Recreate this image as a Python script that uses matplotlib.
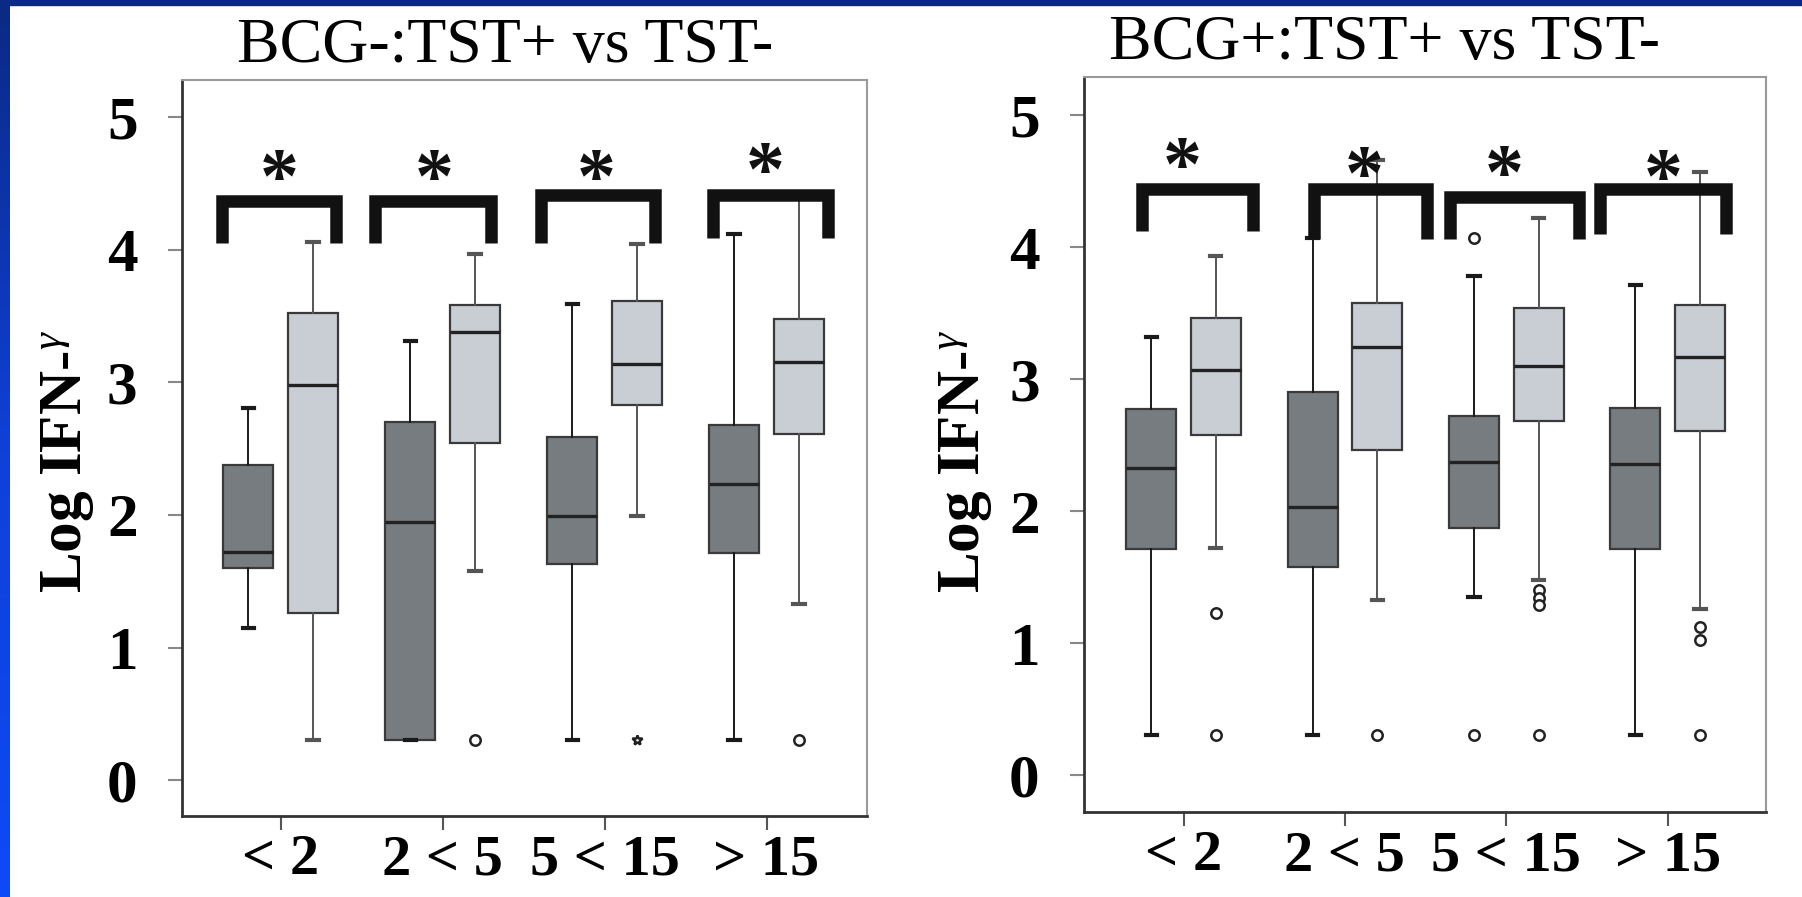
import numpy as np
import matplotlib
matplotlib.use("Agg")
import matplotlib.pyplot as plt
from matplotlib.colors import LinearSegmentedColormap
from matplotlib.patches import Rectangle

plt.rcParams["font.family"] = "Liberation Serif"
plt.rcParams["mathtext.fontset"] = "custom"
plt.rcParams["mathtext.rm"] = "Liberation Serif"
plt.rcParams["mathtext.it"] = "Liberation Serif:italic"
plt.rcParams["mathtext.bf"] = "Liberation Serif:bold"

# grupos de edad (años)
groups = ["< 2", "2 < 5", "5 < 15", "> 15"]

# panel izquierdo BCG- : cajas oscuras = TST-, claras = TST+
bcgneg_neg_q1 = [1.60, 0.30, 1.63, 1.71]
bcgneg_neg_med = [1.72, 1.95, 1.99, 2.23]
bcgneg_neg_q3 = [2.38, 2.70, 2.59, 2.68]
bcgneg_neg_lo = [1.15, 0.30, 0.30, 0.30]
bcgneg_neg_hi = [2.81, 3.31, 3.59, 4.12]
bcgneg_neg_out = [[], [], [], []]

bcgneg_pos_q1 = [1.26, 2.54, 2.83, 2.61]
bcgneg_pos_med = [2.98, 3.38, 3.14, 3.15]
bcgneg_pos_q3 = [3.52, 3.58, 3.61, 3.48]
bcgneg_pos_lo = [0.30, 1.58, 1.99, 1.33]
bcgneg_pos_hi = [4.06, 3.97, 4.04, 4.40]
bcgneg_pos_out = [[], [0.30], [0.30], [0.30]]

# panel derecho BCG+
bcgpos_neg_q1 = [1.71, 1.58, 1.87, 1.71]
bcgpos_neg_med = [2.33, 2.03, 2.37, 2.36]
bcgpos_neg_q3 = [2.77, 2.90, 2.72, 2.78]
bcgpos_neg_lo = [0.30, 0.30, 1.35, 0.30]
bcgpos_neg_hi = [3.32, 4.07, 3.78, 3.71]
bcgpos_neg_out = [[], [], [4.07, 0.30], []]

bcgpos_pos_q1 = [2.58, 2.46, 2.68, 2.61]
bcgpos_pos_med = [3.07, 3.24, 3.10, 3.17]
bcgpos_pos_q3 = [3.46, 3.58, 3.54, 3.56]
bcgpos_pos_lo = [1.72, 1.33, 1.48, 1.26]
bcgpos_pos_hi = [3.93, 4.66, 4.22, 4.57]
bcgpos_pos_out = [[1.23, 0.30], [0.30], [1.40, 1.34, 1.29, 0.30], [1.12, 1.02, 0.30]]

# corchetes de significancia (*)
left_br_x0 = [0.64, 1.58, 2.61, 3.67]
left_br_x1 = [1.34, 2.30, 3.31, 4.38]
left_br_top = [4.37, 4.37, 4.41, 4.41]
left_br_bot = [4.05, 4.05, 4.05, 4.09]
left_star_x = [0.99, 1.95, 2.95, 3.99]
left_star_y = [4.63, 4.63, 4.63, 4.68]

right_br_x0 = [0.74, 1.81, 2.65, 3.58]
right_br_x1 = [1.43, 2.51, 3.45, 4.36]
right_br_top = [4.44, 4.44, 4.38, 4.44]
right_br_bot = [4.12, 4.06, 4.06, 4.10]
right_star_x = [0.99, 2.12, 2.99, 3.97]
right_star_y = [4.70, 4.63, 4.64, 4.61]


def make_stats(q1, med, q3, lo, hi, out):
    return [dict(q1=a, med=b, q3=c, whislo=d, whishi=e, fliers=f)
            for a, b, c, d, e, f in zip(q1, med, q3, lo, hi, out)]


def draw_boxes(ax, stats, pos, face, wcolor):
    return ax.bxp(stats, positions=pos, widths=0.31, patch_artist=True,
                  capwidths=0.07,
                  boxprops=dict(facecolor=face, edgecolor="#3a3a3a", linewidth=1.6),
                  medianprops=dict(color="#222222", linewidth=2.4),
                  whiskerprops=dict(color=wcolor, linewidth=1.4),
                  capprops=dict(color=wcolor, linewidth=3),
                  flierprops=dict(marker="o", markersize=7.5, markerfacecolor="white",
                                  markeredgecolor="#222222", markeredgewidth=1.8))


def panel(ax, neg, pos_, bx0, bx1, btop, bbot, sx, sy, title, title_x, xlim, ylim):
    pos = np.arange(1, len(groups) + 1)
    draw_boxes(ax, neg, pos - 0.2, "#767c7f", "#1a1a1a")
    bp = draw_boxes(ax, pos_, pos + 0.2, "#c9cdd4", "#555555")
    for i in range(len(bx0)):
        ax.plot([bx0[i], bx0[i], bx1[i], bx1[i]], [bbot[i], btop[i], btop[i], bbot[i]],
                color="#111111", lw=9, solid_joinstyle="miter", solid_capstyle="butt", zorder=5)
        # el asterisco queda alto en la línea de texto: se baja un poco
        ax.text(sx[i], sy[i] - 0.12, "*", ha="center", va="center", fontsize=56,
                fontweight="bold", color="#111111", zorder=6)
    ax.set_xlim(*xlim)
    ax.set_ylim(*ylim)
    ax.set_yticks(range(6))
    ax.set_yticklabels([str(v) for v in range(6)], fontsize=44, fontweight="bold")
    ax.set_xticks(pos)
    ax.set_xticklabels(groups, fontsize=42, fontweight="bold")
    ax.tick_params(axis="y", length=10, width=1.5, color="#888888", pad=22)
    ax.tick_params(axis="x", length=10, width=1.5, color="#555555", pad=3)
    for s in ["top", "right"]:
        ax.spines[s].set_color("#999999")
        ax.spines[s].set_linewidth(1.5)
    for s in ["left", "bottom"]:
        ax.spines[s].set_color("#333333")
        ax.spines[s].set_linewidth(2)
    ax.set_title(title, fontsize=46, x=title_x, pad=13)
    return bp


fig = plt.figure(figsize=(18.02, 8.97), dpi=100)

ax1 = fig.add_axes([0.1010, 0.0903, 0.3801, 0.8205])
bp = panel(ax1,
           make_stats(bcgneg_neg_q1, bcgneg_neg_med, bcgneg_neg_q3, bcgneg_neg_lo, bcgneg_neg_hi, bcgneg_neg_out),
           make_stats(bcgneg_pos_q1, bcgneg_pos_med, bcgneg_pos_q3, bcgneg_pos_lo, bcgneg_pos_hi, bcgneg_pos_out),
           left_br_x0, left_br_x1, left_br_top, left_br_bot, left_star_x, left_star_y,
           "BCG-:TST+ vs TST-", 0.4715, (0.39, 4.62), (-0.27, 5.28))
bp["fliers"][2].set_marker("*")
bp["fliers"][2].set_markersize(7)

ax2 = fig.add_axes([0.6016, 0.0948, 0.3785, 0.8194])
panel(ax2,
      make_stats(bcgpos_neg_q1, bcgpos_neg_med, bcgpos_neg_q3, bcgpos_neg_lo, bcgpos_neg_hi, bcgpos_neg_out),
      make_stats(bcgpos_pos_q1, bcgpos_pos_med, bcgpos_pos_q3, bcgpos_pos_lo, bcgpos_pos_hi, bcgpos_pos_out),
      right_br_x0, right_br_x1, right_br_top, right_br_bot, right_star_x, right_star_y,
      "BCG+:TST+ vs TST-", 0.441, (0.384, 4.61), (-0.28, 5.29))

# etiquetas del eje y
for xf in [68 / 1802, 966 / 1802]:
    fig.text(xf, 0.485, r"Log IFN-$^{\gamma}$", rotation=90, ha="center", va="center",
             fontsize=44, fontweight="bold")

# marco azul de la diapositiva
fig.patches.append(Rectangle((0, 1 - 5 / 897), 1, 5 / 897, transform=fig.transFigure,
                             color="#0b2a85", zorder=10))
axb = fig.add_axes([0, 0, 10 / 1802, 1 - 5 / 897])
cmap = LinearSegmentedColormap.from_list("marco", ["#0b2a85", "#1040d8", "#0d4af7"])
axb.imshow(np.linspace(0, 1, 200).reshape(-1, 1), aspect="auto", cmap=cmap)
axb.axis("off")

fig.savefig("out.png", dpi=100)
